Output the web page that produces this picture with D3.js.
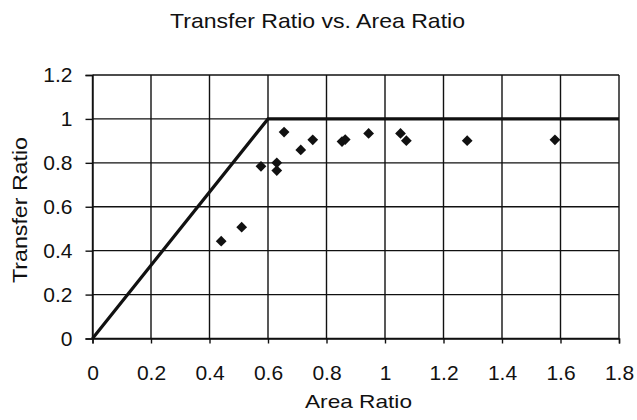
<!DOCTYPE html>
<html><head><meta charset="utf-8">
<script src="https://cdn.jsdelivr.net/npm/d3@7"></script>
<style>body{margin:0;background:#fff}svg{display:block}text{font-family:"Liberation Sans",Arial,sans-serif;fill:#111}</style>
</head><body><svg id="c" width="637" height="420"></svg>
<script>
const areaRatio = [0.44, 0.51, 0.576, 0.63, 0.63, 0.655, 0.712, 0.753, 0.853, 0.864, 0.944, 1.053, 1.073, 1.281, 1.581];
const transferRatio = [0.443, 0.507, 0.784, 0.80, 0.765, 0.94, 0.859, 0.905, 0.897, 0.906, 0.934, 0.934, 0.901, 0.901, 0.905];
const limitX = [0, 0.6, 1.8];
const limitY = [0, 1, 1];
const xTicks = [0, 0.2, 0.4, 0.6, 0.8, 1, 1.2, 1.4, 1.6, 1.8];
const yTicks = [0, 0.2, 0.4, 0.6, 0.8, 1, 1.2];

const svg = d3.select("#c");
const x = d3.scaleLinear().domain([0, 1.8]).range([92.5, 619]);
const y = d3.scaleLinear().domain([0, 1.2]).range([338.5, 75]);

const ink = "#111";
const FONT = '"Liberation Sans",Arial,sans-serif';
// grid
svg.append("g").selectAll("line").data(xTicks).join("line")
  .attr("x1", d => x(d)).attr("x2", d => x(d)).attr("y1", y(0)).attr("y2", y(1.2))
  .attr("stroke", ink).attr("stroke-width", 1.4);
svg.append("g").selectAll("line").data(yTicks).join("line")
  .attr("y1", d => y(d)).attr("y2", d => y(d)).attr("x1", x(0)).attr("x2", x(1.8))
  .attr("stroke", ink).attr("stroke-width", 1.4);

// axes
const xa = svg.append("g").attr("transform", `translate(0,${y(0)})`)
  .call(d3.axisBottom(x).tickValues(xTicks).tickFormat(d => String(d)).tickSize(5));
xa.selectAll(".tick text").attr("y", 41).attr("dy", 0);
const ya = svg.append("g").attr("transform", `translate(${x(0)},0)`)
  .call(d3.axisLeft(y).tickValues(yTicks).tickFormat(d => String(d)).tickSize(7).tickPadding(13));
[xa, ya].forEach(a => {
  a.select(".domain").attr("stroke", ink).attr("stroke-width", 1.4);
  a.selectAll(".tick line").attr("stroke", ink).attr("stroke-width", 1.4);
  a.selectAll(".tick text").attr("font-size", 21).attr("font-family", FONT).attr("fill", ink);
});

// limit line
const line = d3.line().x(d => x(d[0])).y(d => y(d[1]));
svg.append("path").datum(d3.zip(limitX, limitY)).attr("d", line)
  .attr("fill", "none").attr("stroke", ink).attr("stroke-width", 3.2).attr("stroke-linejoin", "miter");

// points
const sym = d3.symbol().type(d3.symbolSquare).size(58);
svg.append("g").selectAll("path").data(d3.zip(areaRatio, transferRatio)).join("path")
  .attr("d", sym).attr("transform", d => `translate(${x(d[0])},${y(d[1])}) rotate(45)`)
  .attr("fill", ink);

// titles
svg.append("text").attr("x", 317.5).attr("y", 28).attr("text-anchor", "middle").attr("font-size", 21)
  .attr("textLength", 295).attr("lengthAdjust", "spacingAndGlyphs").text("Transfer Ratio vs. Area Ratio");
svg.append("text").attr("x", 358.5).attr("y", 408).attr("text-anchor", "middle").attr("font-size", 19)
  .attr("textLength", 107).attr("lengthAdjust", "spacingAndGlyphs").text("Area Ratio");
svg.append("text").attr("transform", `translate(27,210) rotate(-90)`).attr("text-anchor", "middle").attr("font-size", 20)
  .attr("textLength", 146).attr("lengthAdjust", "spacingAndGlyphs").text("Transfer Ratio");
</script></body></html>
